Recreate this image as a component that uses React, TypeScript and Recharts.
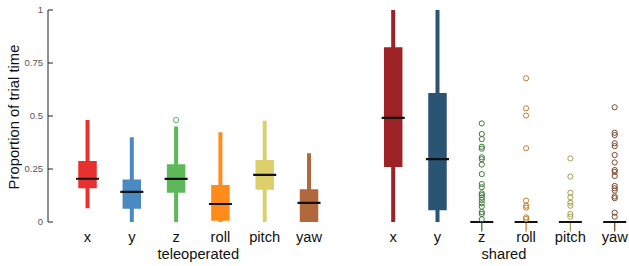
import React from 'react';
import { ComposedChart, Scatter, XAxis, YAxis, ReferenceLine } from 'recharts';

// ---- data ----
const categories = ['x', 'y', 'z', 'roll', 'pitch', 'yaw'];
const groupNames = ['teleoperated', 'shared'];
const yTicks = [0, 0.25, 0.5, 0.75, 1];
const yTickLabels = ['0', '0.25', '0.5', '0.75', '1'];

// teleoperated
const teleWhiskerLow = [0.065, 0, 0, 0, 0, 0];
const teleQ1 = [0.159, 0.063, 0.138, 0.006, 0.152, 0.0];
const teleMedian = [0.204, 0.142, 0.203, 0.085, 0.222, 0.09];
const teleQ3 = [0.288, 0.201, 0.272, 0.175, 0.292, 0.154];
const teleWhiskerHigh = [0.481, 0.4, 0.45, 0.423, 0.478, 0.324];
const teleOutliers: number[][] = [[], [], [0.481], [], [], []];

// shared
const sharedWhiskerLow = [0, 0, -0.045, -0.045, -0.045, -0.045];
const sharedQ1 = [0.259, 0.055, 0, 0, 0, 0];
const sharedMedian = [0.491, 0.297, 0, 0, 0, 0];
const sharedQ3 = [0.824, 0.608, 0, 0, 0, 0];
const sharedWhiskerHigh = [1, 1, 0, 0, 0, 0];
const sharedOutliers: number[][] = [
  [],
  [],
  [0.465, 0.415, 0.391, 0.355, 0.346, 0.305, 0.296, 0.271, 0.226, 0.179, 0.164, 0.135, 0.127, 0.116, 0.104, 0.088, 0.072, 0.047, 0.038, 0.013],
  [0.678, 0.536, 0.502, 0.348, 0.101, 0.077, 0.068, 0.022, 0.014],
  [0.3, 0.214, 0.138, 0.116, 0.091, 0.077, 0.038, 0.025],
  [0.541, 0.421, 0.41, 0.371, 0.358, 0.316, 0.281, 0.245, 0.236, 0.217, 0.17, 0.159, 0.148, 0.12, 0.112, 0.044, 0.025],
];

// ---- styles / layout ----
const teleColors = ['#e8312f', '#4a89c2', '#5db85a', '#ff8b1a', '#ddd06c', '#b0683c'];
const sharedColors = ['#9c2226', '#2b5474', '#3d7b39', '#c97a2b', '#a69c4b', '#7b4b31'];
const GROUP_OFFSET = 6.9;
const X_DOMAIN: [number, number] = [0.108, 13.223];
const Y_DOMAIN: [number, number] = [-0.05, 1];
const BOX_W = 18.5;
const WHISKER_W = 4;
const THIN_WHISKER_W = 1.3;
const MED_HALF = 0.26;
const FONT = 'Liberation Sans, Arial, Helvetica, sans-serif';

type Group = {
  low: number[]; q1: number[]; med: number[]; q3: number[]; high: number[];
  outliers: number[][]; colors: string[];
};
const groups: Group[] = [
  { low: teleWhiskerLow, q1: teleQ1, med: teleMedian, q3: teleQ3, high: teleWhiskerHigh, outliers: teleOutliers, colors: teleColors },
  { low: sharedWhiskerLow, q1: sharedQ1, med: sharedMedian, q3: sharedQ3, high: sharedWhiskerHigh, outliers: sharedOutliers, colors: sharedColors },
];

const posOf = (g: number, i: number) => i + 1 + g * GROUP_OFFSET;

const tickLabelMap: Record<string, { text: string; row: number }> = {};
const xTicks: number[] = [];
groups.forEach((_, g) => {
  categories.forEach((c, i) => {
    const p = posOf(g, i);
    xTicks.push(p);
    tickLabelMap[p.toFixed(3)] = { text: c, row: 0 };
  });
  const mid = posOf(g, 2.5);
  xTicks.push(mid);
  tickLabelMap[mid.toFixed(3)] = { text: groupNames[g], row: 1 };
});

const noShape = () => <g />;

const XTick = (props: any) => {
  const { x, y, payload } = props;
  const info = tickLabelMap[Number(payload.value).toFixed(3)];
  if (!info) return <g />;
  return (
    <text x={x} y={y} dy={info.row === 0 ? 9.6 : 26.6} textAnchor="middle" fontSize={14.7} fill="#111" fontFamily={FONT}>
      {info.text}
    </text>
  );
};

const YTick = (props: any) => {
  const { x, y, payload } = props;
  const idx = yTicks.indexOf(payload.value);
  return (
    <g>
      <line x1={x} x2={x + 5} y1={y} y2={y} stroke="#222" strokeWidth={1} />
      <text x={x - 5} y={y} dy={3.3} textAnchor="end" fontSize={9.5} fill="#555" fontFamily={FONT}>
        {idx >= 0 ? yTickLabels[idx] : ''}
      </text>
    </g>
  );
};

const YLabel = (props: any) => {
  const vb = props.viewBox || { x: 0, y: 10 };
  const cx = vb.x + 14;
  const cy = vb.y + 107;
  return (
    <text x={cx} y={cy} transform={`rotate(-90, ${cx}, ${cy})`} textAnchor="middle" dominantBaseline="central" fontSize={14.8} fill="#111" fontFamily={FONT}>
      Proportion of trial time
    </text>
  );
};

export default function App() {
  const series: React.ReactNode[] = [];
  groups.forEach((grp, g) => {
    categories.forEach((c, i) => {
      const p = posOf(g, i);
      const col = grp.colors[i];
      const hasBox = grp.q3[i] > grp.q1[i];
      series.push(
        <Scatter key={`w-${g}-${i}`} data={[{ x: p, y: grp.low[i] }, { x: p, y: grp.high[i] }]} shape={noShape}
          line={{ stroke: col, strokeWidth: hasBox ? WHISKER_W : THIN_WHISKER_W }} fill={col} isAnimationActive={false} legendType="none" />
      );
      if (hasBox) {
        series.push(
          <Scatter key={`b-${g}-${i}`} data={[{ x: p, y: grp.q1[i] }, { x: p, y: grp.q3[i] }]} shape={noShape}
            line={{ stroke: col, strokeWidth: BOX_W }} fill={col} isAnimationActive={false} legendType="none" />
        );
      }
    });
  });
  groups.forEach((grp, g) => {
    categories.forEach((c, i) => {
      const p = posOf(g, i);
      series.push(
        <Scatter key={`m-${g}-${i}`} data={[{ x: p - MED_HALF, y: grp.med[i] }, { x: p + MED_HALF, y: grp.med[i] }]} shape={noShape}
          line={{ stroke: '#111', strokeWidth: 2.2 }} fill="#111" isAnimationActive={false} legendType="none" />
      );
    });
  });
  groups.forEach((grp, g) => {
    categories.forEach((c, i) => {
      const p = posOf(g, i);
      const col = grp.colors[i];
      if (grp.outliers[i].length === 0) return;
      series.push(
        <Scatter key={`o-${g}-${i}`} data={grp.outliers[i].map((v) => ({ x: p, y: v }))}
          shape={(sp: any) => <circle cx={sp.cx} cy={sp.cy} r={2.6} fill="none" stroke={col} strokeWidth={1} />}
          fill={col} isAnimationActive={false} legendType="none" />
      );
    });
  });

  return (
    <div style={{ position: 'absolute', left: 0, top: 0, width: 629, height: 266, background: '#fff' }}>
      <ComposedChart width={629} height={266} margin={{ top: 10, right: 0, bottom: 0, left: 0 }}>
        <XAxis type="number" dataKey="x" domain={X_DOMAIN} allowDataOverflow ticks={xTicks} interval={0}
          axisLine={false} tickLine={false} tickSize={0} tickMargin={0} height={33.4} tick={<XTick />} />
        <YAxis type="number" dataKey="y" domain={Y_DOMAIN} allowDataOverflow ticks={yTicks} interval={0}
          axisLine={false} tickLine={false} tickSize={0} tickMargin={0} width={48} tick={<YTick />} label={<YLabel />} />
        <ReferenceLine segment={[{ x: X_DOMAIN[0], y: 0 }, { x: X_DOMAIN[0], y: 1 }]} stroke="#222" strokeWidth={1} ifOverflow="visible" />
        {series}
      </ComposedChart>
    </div>
  );
}
